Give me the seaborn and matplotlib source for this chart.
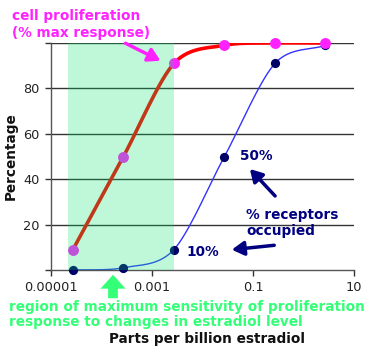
import numpy as np
import pandas as pd
import matplotlib
matplotlib.use("Agg")
import matplotlib.pyplot as plt
import seaborn as sns

# estradiol concentration (ppb) and responses (%)
conc = [2.72e-5, 2.72e-4, 2.72e-3, 2.72e-2, 2.72e-1, 2.72]
proliferation = [9, 50, 91, 99, 100, 100]
receptors = [0, 1, 9, 50, 91, 99]
xticks = [1e-5, 1e-3, 1e-1, 10]
xticklabels = ["0.00001", "0.001", "0.1", "10"]
yticks = [0, 20, 40, 60, 80, 100]
yticklabels = ["", "20", "40", "60", "80", ""]
region = (2.17e-5, 2.72e-3)


def smooth(xs, ys, n=30):
    # excel-style smoothed line, done in log-x space
    lx = np.log10(xs)
    ys = np.asarray(ys, float)
    px = np.concatenate([[2 * lx[0] - lx[1]], lx, [2 * lx[-1] - lx[-2]]])
    py = np.concatenate([[2 * ys[0] - ys[1]], ys, [2 * ys[-1] - ys[-2]]])
    outx, outy = [], []
    t = np.linspace(0, 1, n)
    for i in range(1, len(px) - 2):
        for p, out in ((px, outx), (py, outy)):
            p0, p1, p2, p3 = p[i - 1], p[i], p[i + 1], p[i + 2]
            m1 = (p2 - p0) / 2 * 0.9
            m2 = (p3 - p1) / 2 * 0.9
            h00 = 2 * t**3 - 3 * t**2 + 1
            h10 = t**3 - 2 * t**2 + t
            h01 = -2 * t**3 + 3 * t**2
            h11 = t**3 - t**2
            out.extend(h00 * p1 + h10 * m1 + h01 * p2 + h11 * m2)
    return 10 ** np.array(outx), np.array(outy)


sns.set_theme(style="white")
plt.rcParams["font.family"] = ["DejaVu Sans"]

W, H = 372, 354
fig = plt.figure(figsize=(W / 100, H / 100), dpi=100)
ax = fig.add_axes([51 / W, 1 - 270 / H, (354 - 51) / W, (270 - 43) / H])

for yv in yticks[1:]:
    ax.axhline(yv, color="#333333", lw=1, zorder=1)

sx, sy = smooth(conc, proliferation)
sns.lineplot(x=sx, y=sy, color="#ff0000", lw=2.6, sort=False, ax=ax, zorder=2)
bx, by = smooth(conc, receptors)
sns.lineplot(x=bx, y=np.clip(by, 0, None), color="#3333ff", lw=1, sort=False, ax=ax, zorder=2)

df = pd.DataFrame({"conc": conc, "prolif": proliferation, "rec": receptors})
sns.scatterplot(data=df, x="conc", y="rec", color="#000066", s=44, linewidth=0,
                ax=ax, zorder=3, clip_on=False)
sns.scatterplot(data=df, x="conc", y="prolif", color="#ff22ff", s=62, linewidth=0,
                ax=ax, zorder=4, clip_on=False)

ax.axvspan(region[0], region[1], color=(0.0, 0.9, 0.4), alpha=0.25, lw=0, zorder=5)

ax.set_xscale("log")
ax.set_xlim(1e-5, 10)
ax.set_ylim(0, 100)
ax.set_xticks(xticks)
ax.set_xticklabels(xticklabels)
ax.minorticks_off()
ax.set_yticks(yticks)
ax.set_yticklabels(yticklabels)
ax.tick_params(axis="both", which="major", direction="out", length=4, width=1,
               color="#333333", labelsize=9.3, labelcolor="#222222", pad=4,
               left=True, bottom=True)
for s in ["top", "right"]:
    ax.spines[s].set_visible(False)
for s in ["left", "bottom"]:
    ax.spines[s].set_color("#555555")
    ax.spines[s].set_linewidth(1)
ax.set_xlabel("")
ax.set_ylabel("")


def ftext(x, y, s, **kw):
    fig.text(x / W, 1 - y / H, s, fontweight="bold", va="center", **kw)


def farrow(x0, y0, x1, y1, color, **kw):
    ax.annotate("", xy=(x1, H - y1), xytext=(x0, H - y0),
                xycoords="figure pixels", textcoords="figure pixels",
                arrowprops=dict(color=color, **kw), annotation_clip=False,
                zorder=10)


magenta = "#ff22ff"
navy = "#000080"
green = "#33ff77"
fs = 9.8

ftext(12, 16, "cell proliferation", color=magenta, fontsize=fs)
ftext(12, 33, "(% max response)", color=magenta, fontsize=fs)
farrow(123, 42, 163, 62, magenta,
       arrowstyle="-|>,head_length=0.6,head_width=0.35", lw=2.5)

ftext(240, 156, "50%", color=navy, fontsize=fs)
ftext(246, 215, "% receptors", color=navy, fontsize=fs)
ftext(246, 231, "occupied", color=navy, fontsize=fs)
ftext(186, 252, "10%", color=navy, fontsize=fs)
farrow(277, 198, 248, 167, navy,
       arrowstyle="-|>,head_length=0.6,head_width=0.35", lw=2.5)
farrow(277, 245, 229, 250, navy,
       arrowstyle="-|>,head_length=0.6,head_width=0.35", lw=2.5)

ftext(9, 307, "region of maximum sensitivity of proliferation", color=green, fontsize=fs)
ftext(9, 322, "response to changes in estradiol level", color=green, fontsize=fs)
farrow(113, 301, 113, 272, green,
       arrowstyle="simple,head_length=0.5,head_width=0.9,tail_width=0.35",
       mutation_scale=20, lw=0)

fig.text(207 / W, 1 - 339 / H, "Parts per billion estradiol", fontweight="bold",
         fontsize=fs, ha="center", va="center", color="#111111")
fig.text(11 / W, 1 - 156 / H, "Percentage", fontweight="bold", fontsize=fs,
         rotation=90, ha="center", va="center", color="#111111")

fig.savefig("out.png", dpi=100)
